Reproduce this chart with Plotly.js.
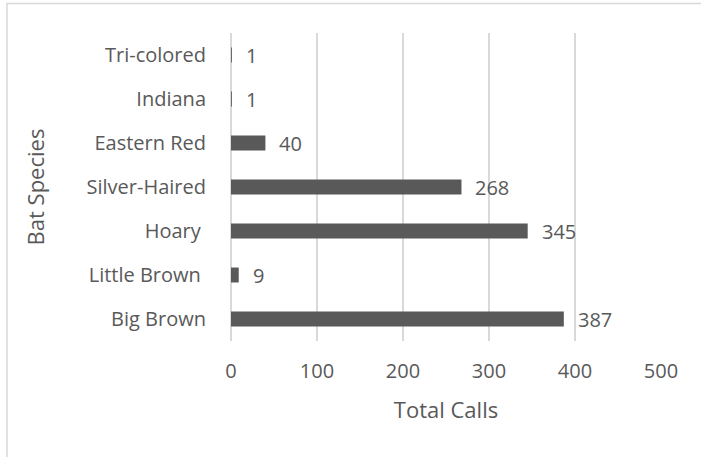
<!DOCTYPE html>
<html>
<head>
<meta charset="utf-8">
<script src="https://cdn.plot.ly/plotly-3.0.1.min.js"></script>
<style>
  html, body { margin: 0; padding: 0; background: #fff; }
  #chart { width: 701px; height: 457px; }
</style>
</head>
<body>
<div id="chart"></div>
<script>
// Bat species recorded and their total call counts (bottom to top)
const species = ['Big Brown', 'Little Brown\u00a0', 'Hoary\u00a0', 'Silver-Haired', 'Eastern Red', 'Indiana', 'Tri-colored'];
const totalCalls = [387, 9, 345, 268, 40, 1, 1];
const xTicks = [0, 100, 200, 300, 400, 500];

const textColor = '#595959';
const gridColor = '#d9d9d9';
const fontFamily = 'Open Sans, sans-serif';
const labelSize = 20;
const titleSize = 22;

const W = 701, H = 457;
const margin = { l: 231, r: 40, t: 32.5, b: 115.5, pad: 0 };
const plotW = W - margin.l - margin.r;
const plotH = H - margin.t - margin.b;

// Chart-area frame (extends past the right and bottom edges of the page)
const frame = {
  type: 'rect', xref: 'paper', yref: 'paper',
  x0: (7 - margin.l) / plotW,
  x1: (W + 10 - margin.l) / plotW,
  y0: -(margin.b + 10) / plotH,
  y1: (H - margin.b - 3) / plotH,
  line: { color: gridColor, width: 1.5 },
  fillcolor: 'rgba(0,0,0,0)', layer: 'below'
};

const trace = {
  type: 'bar', orientation: 'h',
  x: totalCalls, y: species,
  marker: { color: '#595959', line: { width: 0 } },
  hoverinfo: 'skip'
};

// Value labels to the right of each bar
const labels = totalCalls.map((v, i) => ({
  x: v, y: species[i], xref: 'x', yref: 'y',
  text: String(v), showarrow: false,
  xanchor: 'left', yanchor: 'middle', xshift: 12, yshift: 0,
  font: { family: fontFamily, size: labelSize, color: textColor }
}));

const layout = {
  width: W, height: H, margin: margin,
  paper_bgcolor: '#fff', plot_bgcolor: '#fff',
  showlegend: false,
  bargap: 0.66,
  font: { family: fontFamily, size: labelSize, color: textColor },
  xaxis: {
    range: [0, 500], tickvals: xTicks, ticktext: xTicks.map(String),
    showgrid: true, gridcolor: gridColor, gridwidth: 1.5,
    zeroline: true, zerolinecolor: gridColor, zerolinewidth: 1.5,
    showline: false,
    ticks: 'outside', ticklen: 12, tickcolor: 'rgba(0,0,0,0)',
    tickfont: { family: fontFamily, size: labelSize, color: textColor },
    title: { text: 'Total Calls', standoff: 19, font: { family: fontFamily, size: titleSize, color: textColor } },
    fixedrange: true
  },
  yaxis: {
    type: 'category', categoryorder: 'array', categoryarray: species,
    showgrid: false, zeroline: false, showline: false,
    ticks: 'outside', ticklen: 20, tickcolor: 'rgba(0,0,0,0)',
    tickfont: { family: fontFamily, size: labelSize, color: textColor },
    title: { text: 'Bat Species', standoff: 35, font: { family: fontFamily, size: titleSize, color: textColor } },
    fixedrange: true
  },
  shapes: [frame],
  annotations: labels
};

Plotly.newPlot('chart', [trace], layout, { displayModeBar: false, staticPlot: true });
</script>
</body>
</html>
